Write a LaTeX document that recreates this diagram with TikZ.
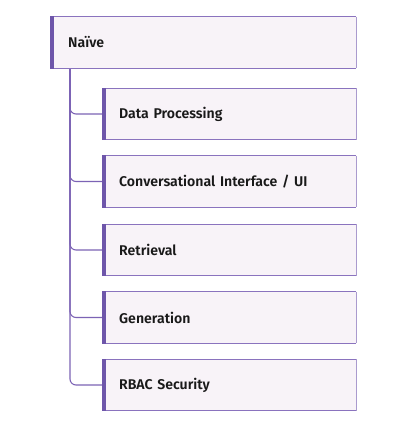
\documentclass[tikz,border=0pt]{standalone}
\usepackage{fontspec}
\newfontfamily\lbl{Fira Sans SemiBold}
\definecolor{boxfill}{HTML}{F8F3F8}
\definecolor{edgec}{HTML}{8A73BE}
\definecolor{rightc}{HTML}{AA9ACE}
\definecolor{barc}{HTML}{6E56AA}
\definecolor{linec}{HTML}{7C63B5}
\begin{document}
\begin{tikzpicture}[x=1pt,y=-1pt]
\useasboundingbox[fill=white] (0,0) rectangle (402,428);
\tikzset{
  box/.style={rectangle, fill=boxfill, minimum height=51pt, inner ysep=0pt, anchor=west, align=left,
    font=\lbl\fontsize{14.1}{16}\selectfont, text=black!90},
  rootbox/.style={box, minimum width=306pt, text width=270pt, inner xsep=18pt},
  childbox/.style={box, minimum width=254pt, text width=220pt, inner xsep=17pt},
  conn/.style={draw=linec, line width=1.1pt, rounded corners=6pt}
}
\node[rootbox] (n0) at (50,42.5) {Naïve};
\node[childbox] (c1) at (102,114) {Data Processing};
\node[childbox] (c2) at (102,181.5) {Conversational Interface / UI};
\node[childbox] (c3) at (102,250) {Retrieval};
\node[childbox] (c4) at (102,317.5) {Generation};
\node[childbox] (c5) at (102,385) {RBAC Security};
\coordinate (trunk) at (70,68.5);
\foreach \c in {c1,c2,c3,c4,c5}{
  \draw[conn] (trunk) |- (\c.west);
}
\foreach \n in {n0,c1,c2,c3,c4,c5}{
  \draw[edgec, line width=1pt] (\n.north west) -- (\n.north east);
  \draw[edgec, line width=1pt] (\n.south west) -- (\n.south east);
  \draw[rightc, line width=1pt] (\n.north east) -- (\n.south east);
  \fill[barc] ([yshift=0.5pt]\n.north west) rectangle ([xshift=4pt,yshift=-0.5pt]\n.south west);
}
\end{tikzpicture}
\end{document}
